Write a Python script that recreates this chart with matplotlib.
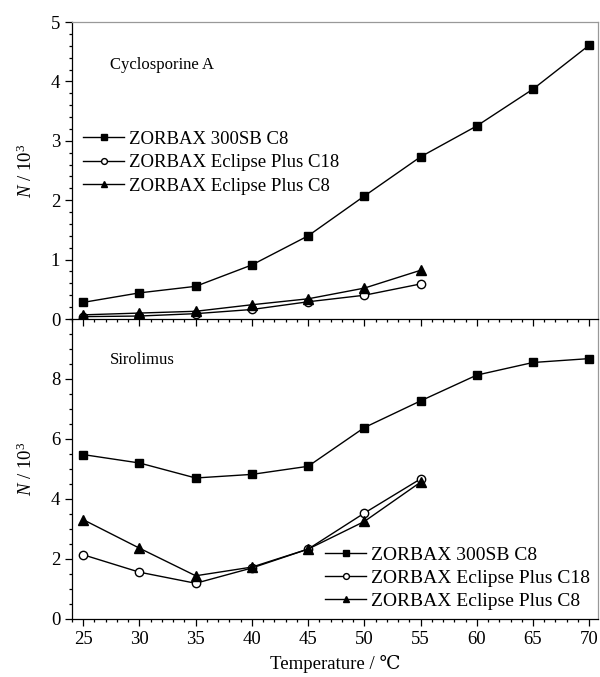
import matplotlib
matplotlib.use("Agg")
import matplotlib.pyplot as plt
from matplotlib.ticker import MultipleLocator

plt.rcParams['font.family'] = ['Liberation Serif', 'DejaVu Serif']
plt.rcParams['mathtext.fontset'] = 'custom'
plt.rcParams['mathtext.rm'] = 'Liberation Serif'
plt.rcParams['mathtext.it'] = 'Liberation Serif:italic'

temps = [25, 30, 35, 40, 45, 50, 55, 60, 65, 70]
temps_short = temps[:7]
labels = ['ZORBAX 300SB C8', 'ZORBAX Eclipse Plus C18', 'ZORBAX Eclipse Plus C8']

# Cyclosporine A (N / 10^3)
cyc_300sb = [0.28, 0.44, 0.55, 0.91, 1.40, 2.07, 2.73, 3.25, 3.87, 4.61]
cyc_c18 = [0.04, 0.05, 0.09, 0.16, 0.29, 0.40, 0.59]
cyc_c8 = [0.07, 0.10, 0.13, 0.24, 0.34, 0.52, 0.82]

# Sirolimus (N / 10^3)
sir_300sb = [5.48, 5.20, 4.70, 4.82, 5.09, 6.38, 7.27, 8.13, 8.55, 8.68]
sir_c18 = [2.14, 1.56, 1.19, 1.70, 2.33, 3.53, 4.67]
sir_c8 = [3.31, 2.36, 1.44, 1.73, 2.33, 3.25, 4.56]

fig = plt.figure(figsize=(6, 6.77), dpi=100)
ax1 = fig.add_axes([0.12, 0.5288, 0.877, 0.4387])
ax2 = fig.add_axes([0.12, 0.0857, 0.877, 0.4431])
ax1.set_zorder(3)
ax1.patch.set_alpha(0)

fs = 13.5


def draw(ax, y1, y2, y3):
    ax.plot(temps, y1, '-s', color='black', lw=1, ms=6, label=labels[0])
    ax.plot(temps_short, y2, '-o', color='black', mfc='white', lw=1, ms=6,
            label=labels[1])
    ax.plot(temps_short, y3, '-^', color='black', lw=1, ms=6.5, label=labels[2])
    ax.set_xlim(24, 70.8)
    ax.xaxis.set_major_locator(MultipleLocator(5))
    ax.xaxis.set_minor_locator(MultipleLocator(1))
    ax.tick_params(which='both', direction='out', labelsize=fs, width=0.9)
    ax.tick_params(which='major', length=5)
    ax.tick_params(which='minor', length=2.5)
    for s in ax.spines.values():
        s.set_linewidth(0.9)
    ax.spines['top'].set_color('#999999')
    ax.spines['right'].set_color('#999999')
    ax.set_ylabel('$N$ / 10$^3$', fontsize=fs)
    ax.yaxis.set_label_coords(-0.068, 0.5)


draw(ax1, cyc_300sb, cyc_c18, cyc_c8)
ax1.set_ylim(0, 5)
ax1.yaxis.set_major_locator(MultipleLocator(1))
ax1.yaxis.set_minor_locator(MultipleLocator(0.2))
ax1.tick_params(axis='x', labelbottom=False)
ax1.text(0.072, 0.855, 'Cyclosporine A', transform=ax1.transAxes,
         fontsize=fs - 1.5, va='center')
ax1.legend(loc='upper left', bbox_to_anchor=(0.021, 0.635), frameon=False,
           fontsize=fs, handlelength=2.2, handletextpad=0.25,
           labelspacing=0.35, borderaxespad=0, borderpad=0, markerscale=0.7)

draw(ax2, sir_300sb, sir_c18, sir_c8)
ax2.set_ylim(0, 10)
ax2.set_yticks([0, 2, 4, 6, 8])
ax2.yaxis.set_minor_locator(MultipleLocator(0.5))
ax2.spines['top'].set_visible(False)
ax2.text(0.072, 0.863, 'Sirolimus', transform=ax2.transAxes,
         fontsize=fs - 1.5, va='center')
ax2.set_xlabel('Temperature / \u2103', fontsize=fs, labelpad=5)
ax2.legend(loc='lower left', bbox_to_anchor=(0.481, 0.03), frameon=False,
           fontsize=fs + 0.5, handlelength=2.1, handletextpad=0.25,
           labelspacing=0.28, borderaxespad=0, borderpad=0, markerscale=0.7)

plt.savefig('out.png', dpi=100)
